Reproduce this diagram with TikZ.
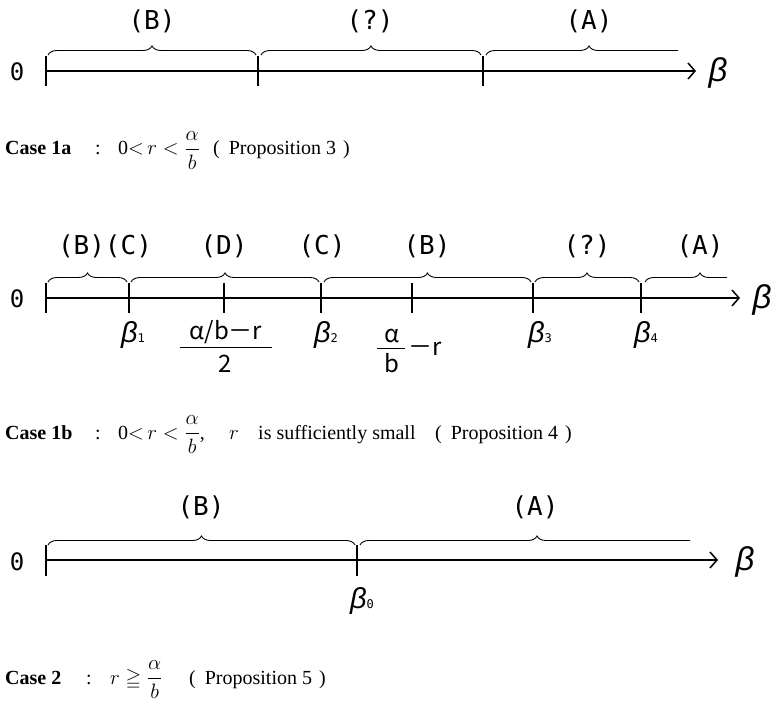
\documentclass[tikz,border=0pt]{standalone}
\usepackage{amsmath,amssymb}
\usepackage{fontspec}
\setmainfont{Liberation Serif}
\newfontfamily\jp{Noto Sans CJK JP}
\newfontfamily\ls{Liberation Sans}
\newfontfamily\gm{DejaVu Sans Mono}
\usetikzlibrary{arrows.meta,decorations.pathreplacing}
\newcommand{\bsub}[1]{{\ls\itshape β}{\gm\fontsize{12}{12}\selectfont #1}}
\newcommand{\prop}[1]{(\hspace{9pt}Proposition #1\hspace{7pt})}
\begin{document}
\begin{tikzpicture}[x=1pt,y=-1pt,
 axis/.style={line width=1.5pt,-{Straight Barb[length=7pt,width=16pt,line width=1.5pt]}},
 tickline/.style={line width=1.5pt},
 brc/.style={decorate,decoration={brace,amplitude=9pt},line width=0.9pt},
 lab/.style={font=\gm\fontsize{26}{26}\selectfont,inner sep=0pt},
 zero/.style={font=\gm\fontsize{24}{24}\selectfont,inner sep=0pt},
 bet/.style={font=\ls\itshape\fontsize{33}{33}\selectfont,inner sep=0pt},
 blab/.style={font=\fontsize{29}{29}\selectfont,inner sep=0pt},
 flab/.style={font=\jp\fontsize{24}{24}\selectfont,inner sep=0pt},
 captxt/.style={font=\fontsize{20}{22}\selectfont,inner sep=0pt,anchor=base west},
]
\useasboundingbox (0,0) rectangle (777,703);
% ---------------- line 1
\node[zero] (z1) at (17,72) {0};
\coordinate (a1s) at (46,71); \coordinate (a1e) at (696,71);
\draw[axis] (a1s) -- (a1e);
\node[bet] (b1) at (718,73) {β};
\foreach \x in {46,258,483} \draw[tickline] (\x,56) -- (\x,86);
\draw[brc] (48,55) -- (256,55);
\draw[brc] (261,55) -- (481,55);
\begin{scope}
\clip (480,0) rectangle (678,100);
\draw[brc] (486,55) -- (692,55);
\end{scope}
\node[lab] (l1b) at (152,21) {(B)};
\node[lab] (l1q) at (370,21) {(?)};
\node[lab] (l1a) at (589,21) {(A)};
% caption 1
\node[captxt] (c1a) at (5,155) {\textbf{Case 1a}};
\node[captxt] (c1b) at (95,155) {:};
\node[captxt] (c1c) at (118,155) {0$<$\,$r<\dfrac{\alpha}{b}$};
\node[captxt] (c1d) at (213,155) {\prop{3}};
% ---------------- line 2
\node[zero] (z2) at (17,299) {0};
\coordinate (a2s) at (46,298); \coordinate (a2e) at (740,298);
\draw[axis] (a2s) -- (a2e);
\node[bet] (b2) at (762,300) {β};
\foreach \x in {46,129,224,321,412,533,641} \draw[tickline] (\x,283) -- (\x,313);
\draw[brc] (48,282) -- (127,282);
\draw[brc] (131,282) -- (319,282);
\draw[brc] (324,282) -- (531,282);
\draw[brc] (535,282) -- (639,282);
\begin{scope}
\clip (640,200) rectangle (727,320);
\draw[brc] (645,282) -- (755,282);
\end{scope}
\node[lab] (l2bc) at (105,246) {(B)(C)};
\node[lab] (l2d) at (224,246) {(D)};
\node[lab] (l2c) at (322,246) {(C)};
\node[lab] (l2b) at (427,246) {(B)};
\node[lab] (l2q) at (587,246) {(?)};
\node[lab] (l2a) at (700,246) {(A)};
\node[blab] (be1) at (133,335) {\bsub{1}};
\node[blab] (be2) at (326,335) {\bsub{2}};
\node[blab] (be3) at (540,335) {\bsub{3}};
\node[blab] (be4) at (646,335) {\bsub{4}};
\node[flab] (fn) at (226,332) {α/b－r};
\node[flab] (fd) at (225,364) {2};
\draw[line width=1pt] (180,348) -- (272,348);
\node[flab] (gn) at (392,336) {α};
\node[flab] (gd) at (392,363) {b};
\draw[line width=1pt] (377,349) -- (405,349);
\node[flab,anchor=west] (gm) at (408,349) {－r};
% caption 2
\node[captxt] (c2a) at (5,439) {\textbf{Case 1b}};
\node[captxt] (c2b) at (95,439) {:};
\node[captxt] (c2c) at (118,439) {0$<$\,$r<\dfrac{\alpha}{b}$,};
\node[captxt] (c2r) at (229,439) {$r$};
\node[captxt] (c2e) at (258,439) {is sufficiently small};
\node[captxt] (c2d) at (435,439) {\prop{4}};
% ---------------- line 3
\node[zero] (z3) at (17,562) {0};
\coordinate (a3s) at (46,560); \coordinate (a3e) at (718,560);
\draw[axis] (a3s) -- (a3e);
\node[bet] (b3) at (745,562) {β};
\foreach \x in {46,357} \draw[tickline] (\x,545) -- (\x,576);
\draw[brc] (48,545) -- (355,545);
\begin{scope}
\clip (350,450) rectangle (690,600);
\draw[brc] (360,545) -- (714,545);
\end{scope}
\node[lab] (l3b) at (201,507) {(B)};
\node[lab] (l3a) at (535,507) {(A)};
\node[blab] (be0) at (362,601) {\bsub{0}};
% caption 3
\node[captxt] (c3a) at (5,684) {\textbf{Case 2}};
\node[captxt] (c3b) at (86,684) {:};
\node[captxt] (c3c) at (110,684) {$r\geqq\dfrac{\alpha}{b}$};
\node[captxt] (c3d) at (189,684) {\prop{5}};
\end{tikzpicture}
\end{document}
